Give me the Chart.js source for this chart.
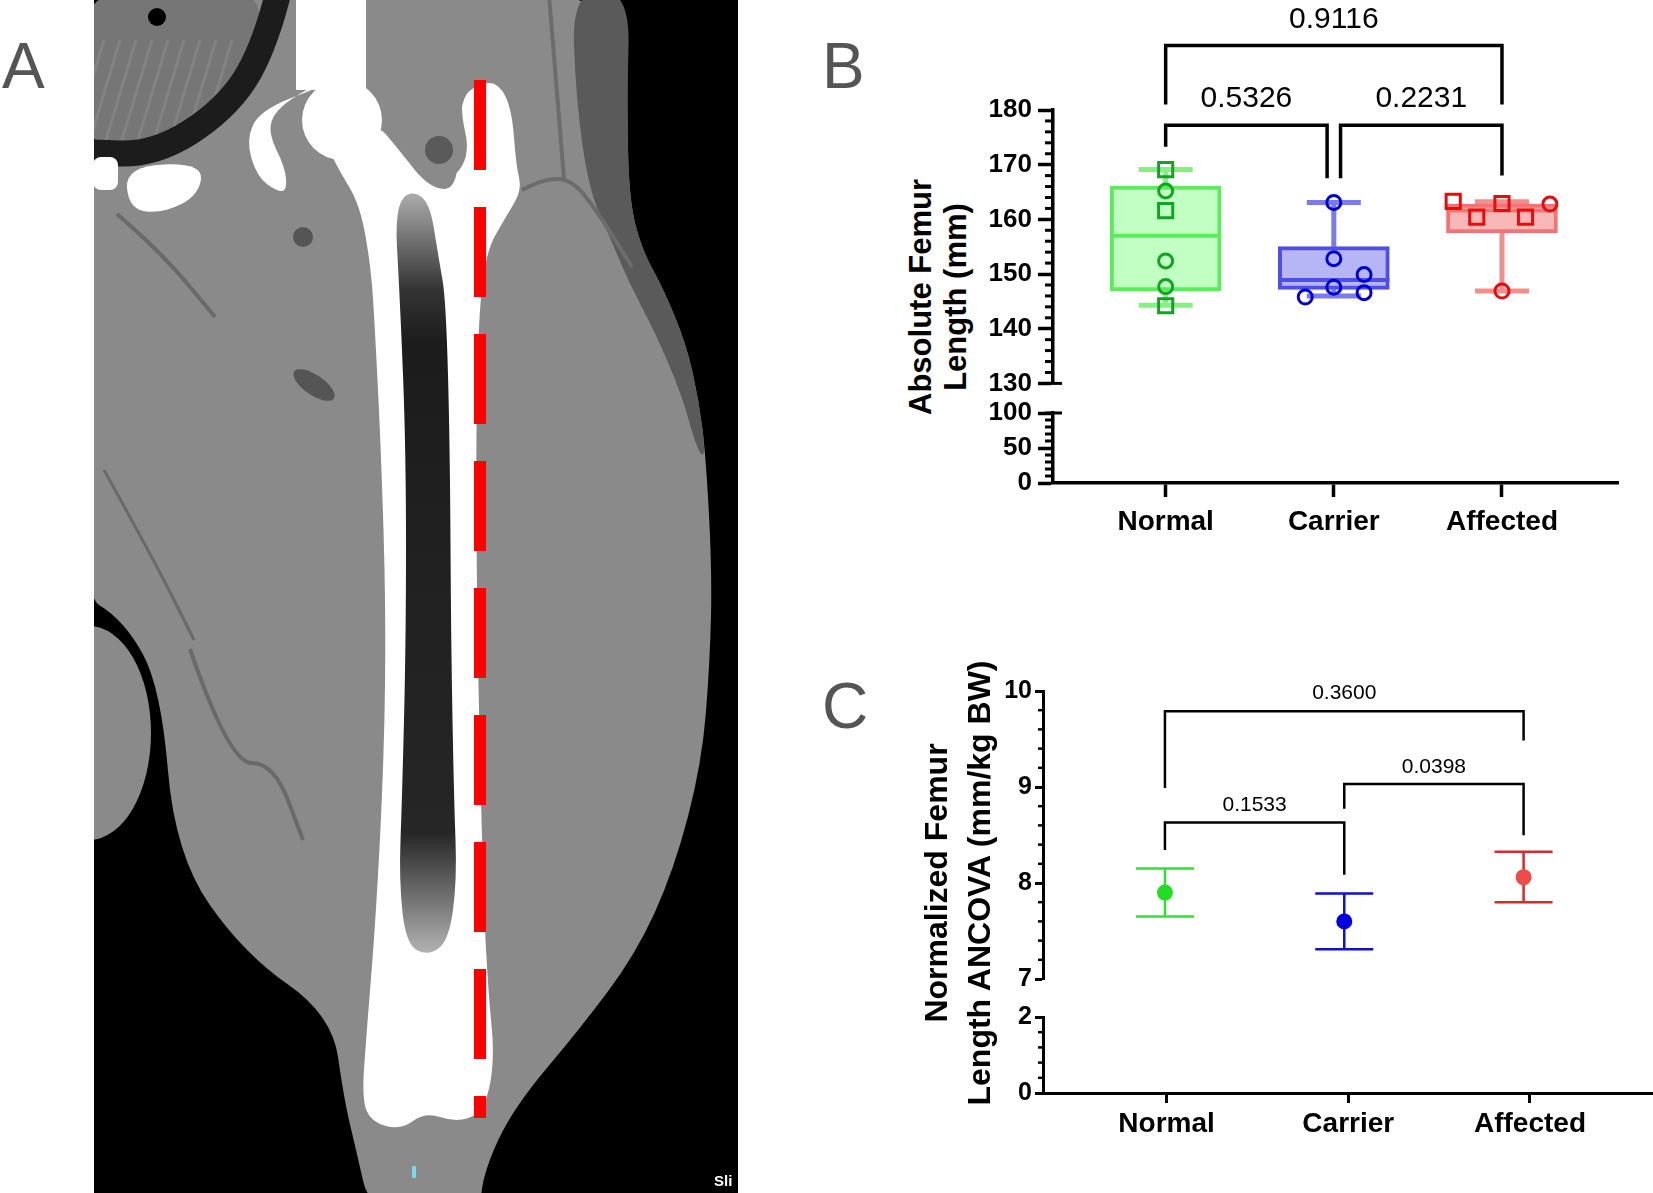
<!DOCTYPE html>
<html>
<head>
<meta charset="utf-8">
<title>Femur length</title>
<script src="https://cdn.jsdelivr.net/npm/chart.js@4.4.1/dist/chart.umd.min.js"></script>
<style>
  html, body { margin: 0; padding: 0; background: #fff; }
  #fig { position: relative; width: 1653px; height: 1193px; overflow: hidden; font-family: "Liberation Sans", Arial, sans-serif; }
  #fig canvas { position: absolute; }
  .letter { position: absolute; font-size: 64px; line-height: 64px; color: #555; }
  .ytitle { position: absolute; width: 600px; text-align: center; font-weight: bold; color: #000;
            transform: rotate(-90deg); transform-origin: 50% 50%; white-space: nowrap; }
</style>
</head>
<body>
<div id="fig">
  <canvas id="scan" width="644" height="1193" style="left:94px;top:0px"></canvas>
  <div class="letter" style="left:2px;top:34px">A</div>
  <div class="letter" style="left:822px;top:34px">B</div>
  <div class="letter" style="left:822px;top:674px">C</div>

  <canvas id="bTop" width="673" height="405" style="left:980px;top:0px"></canvas>
  <canvas id="bBot" width="673" height="180" style="left:980px;top:380px"></canvas>
  <div class="ytitle" style="left:638px;top:262px;font-size:31px;line-height:35px">Absolute Femur<br>Length (mm)</div>

  <canvas id="cTop" width="683" height="360" style="left:970px;top:640px"></canvas>
  <canvas id="cBot" width="683" height="198" style="left:970px;top:995px"></canvas>
  <div class="ytitle" style="left:658px;top:840px;font-size:32px;line-height:43px">Normalized Femur<br>Length ANCOVA (mm/kg BW)</div>
</div>

<script>
// ---------- data ----------
const groups = ['Normal', 'Carrier', 'Affected'];

// B: absolute femur length (mm), box summary per group
const boxLow = [146.9, 147.2, 157.5];
const boxHigh = [166.1, 155.0, 162.8];
const boxMedian = [157.0, 148.9, 161.6];
const whiskerLow = [144.3, 146.0, 146.9];
const whiskerHigh = [169.1, 163.1, 163.2];

// B: single animals (squares / circles), jitter in category units
const normalSquares = [169.1, 161.6, 144.2];
const normalCircles = [165.2, 152.4, 147.7];
const carrierCircles = [163.1, 152.8, 147.6, 149.9, 146.6, 145.8];
const carrierJitter = [0, 0, 0, 0.18, 0.18, -0.17];
const affectedSquares = [163.3, 160.4, 162.9, 160.4];
const affectedSquareJitter = [-0.29, -0.15, 0, 0.14];
const affectedCircles = [162.8, 146.9];
const affectedCircleJitter = [0.285, 0];

const bTicksTop = [130, 140, 150, 160, 170, 180];
const bTicksBottom = [0, 50, 100];

// B: p-value brackets
const bPValues = ['0.9116', '0.5326', '0.2231'];
const bFrom = [1, 1, 2.04];
const bTo = [3, 1.96, 3];
const bBarY = [191.8, 177.2, 177.2];
const bFootFrom = [181.0, 173.3, 167.5];
const bFootTo = [181.0, 167.5, 168.0];
const bTextY = [196.5, 182.1, 182.1];

// C: normalized femur length, mean with error bars
const cMean = [7.90, 7.60, 8.06];
const cUpper = [8.15, 7.89, 8.325];
const cLower = [7.65, 7.31, 7.80];
const cTicksTop = [7, 8, 9, 10];
const cTicksBottom = [0, 2];

const cPValues = ['0.3600', '0.1533', '0.0398'];
const cFrom = [1, 1, 2];
const cTo = [3, 2, 3];
const cBarY = [9.79, 8.631, 9.032];
const cFootFrom = [8.99, 8.344, 8.774];
const cFootTo = [9.485, 8.086, 8.498];
const cTextY = [9.974, 8.815, 9.209];

// ---------- colours ----------
const boxFill = ['#c2ffc2', '#b6b6f7', '#f8b8b8'];
const boxEdge = ['#5aec5a', '#4f4fe6', '#f07474'];
const whiskerColor = ['#86ef86', '#7b7bec', '#f38e8e'];
const pointColor = ['#12a322', '#0000d6', '#ea0a0a'];
const cDot = ['#22dd22', '#0000dd', '#ef4b4b'];
const cBar = ['#2ee52e', '#1010d0', '#d82a2a'];

Chart.defaults.font.family = '"Liberation Sans", Arial, sans-serif';
Chart.defaults.color = '#000';
Chart.defaults.animation = false;
Chart.defaults.plugins.legend.display = false;
Chart.defaults.plugins.tooltip.enabled = false;

// ---------- scale helpers ----------
const yAxis = (min, max, ticks, tickLen, pad, lineW, fontSize) => ({
  type: 'linear', min, max,
  afterFit: s => { s.width = 73; },
  afterBuildTicks: s => { s.ticks = ticks.map(v => ({ value: v })); },
  ticks: { color: '#000', padding: pad, font: { size: fontSize, weight: 'bold' } },
  grid: { drawOnChartArea: false, drawTicks: true, tickLength: tickLen, tickWidth: lineW, tickColor: '#000' },
  border: { display: true, color: '#000', width: lineW }
});

// hidden x axis for the upper segments (no bar offset, so it lines up with the visible one)
const xHidden = (min, max) => ({ type: 'linear', min, max, display: false, offset: false });

const xAxis = (min, max, lineW, tickLen, pad, height) => ({
  type: 'linear', min, max, position: 'bottom', offset: false,
  afterBuildTicks: s => { s.ticks = groups.map((g, i) => ({ value: i + 1 })); },
  afterFit: s => { s.height = height; },
  ticks: { color: '#000', padding: pad, autoSkip: false, maxRotation: 0,
           font: { size: 28, weight: 'bold' }, callback: v => groups[Math.round(v) - 1] },
  grid: { drawOnChartArea: false, drawTicks: true, tickLength: tickLen, tickWidth: lineW, tickColor: '#000' },
  border: { display: true, color: '#000', width: lineW }
});

// ---------- plugins ----------
const minorTicks = (step, majorStep, len, width, capAt) => ({
  id: 'minorTicks',
  afterDraw(chart) {
    const { ctx, chartArea, scales: { y } } = chart;
    const x0 = chartArea.left;
    ctx.save();
    ctx.strokeStyle = '#000';
    ctx.lineWidth = width;
    const n = Math.round((y.max - y.min) / step);
    for (let k = 1; k < n; k++) {
      const v = y.min + k * step;
      if (Math.abs(v / majorStep - Math.round(v / majorStep)) < 1e-6) continue;
      const py = y.getPixelForValue(v);
      ctx.beginPath(); ctx.moveTo(x0 - len, py); ctx.lineTo(x0, py); ctx.stroke();
    }
    if (capAt !== null) {
      const py = y.getPixelForValue(capAt);
      ctx.beginPath(); ctx.moveTo(x0 - 8, py); ctx.lineTo(x0 + 9, py); ctx.stroke();
    }
    ctx.restore();
  }
});

const brackets = (b) => ({
  id: 'brackets',
  afterDraw(chart) {
    const { ctx, scales: { x, y } } = chart;
    ctx.save();
    ctx.strokeStyle = '#000';
    ctx.fillStyle = '#000';
    ctx.lineWidth = b.lineWidth;
    ctx.lineJoin = 'miter';
    ctx.font = b.fontSize + 'px "Liberation Sans", Arial, sans-serif';
    ctx.textAlign = 'center';
    ctx.textBaseline = 'middle';
    b.labels.forEach((t, i) => {
      const x1 = x.getPixelForValue(b.from[i]);
      const x2 = x.getPixelForValue(b.to[i]);
      const yb = y.getPixelForValue(b.bar[i]);
      ctx.beginPath();
      ctx.moveTo(x1, y.getPixelForValue(b.footFrom[i]));
      ctx.lineTo(x1, yb);
      ctx.lineTo(x2, yb);
      ctx.lineTo(x2, y.getPixelForValue(b.footTo[i]));
      ctx.stroke();
      ctx.fillText(t, (x1 + x2) / 2, y.getPixelForValue(b.textY[i]));
    });
    ctx.restore();
  }
});

const boxParts = {
  id: 'boxParts',
  beforeDatasetsDraw(chart) {
    const { ctx, scales: { x, y } } = chart;
    ctx.save();
    ctx.lineWidth = 5;
    groups.forEach((g, i) => {
      const px = x.getPixelForValue(i + 1);
      ctx.strokeStyle = whiskerColor[i];
      ctx.beginPath();
      ctx.moveTo(px, y.getPixelForValue(boxHigh[i]));
      ctx.lineTo(px, y.getPixelForValue(whiskerHigh[i]));
      ctx.moveTo(px, y.getPixelForValue(boxLow[i]));
      ctx.lineTo(px, y.getPixelForValue(whiskerLow[i]));
      [whiskerHigh[i], whiskerLow[i]].forEach(v => {
        const py = y.getPixelForValue(v);
        ctx.moveTo(px - 27, py); ctx.lineTo(px + 27, py);
      });
      ctx.stroke();
    });
    ctx.restore();
  },
  afterDatasetDraw(chart, args) {
    if (args.meta.type !== 'bar') return;
    const { ctx, scales: { y } } = chart;
    ctx.save();
    ctx.lineWidth = 4;
    args.meta.data.forEach((bar, i) => {
      const py = y.getPixelForValue(boxMedian[i]);
      ctx.strokeStyle = boxEdge[i];
      ctx.beginPath();
      ctx.moveTo(bar.x - bar.width / 2, py);
      ctx.lineTo(bar.x + bar.width / 2, py);
      ctx.stroke();
    });
    ctx.restore();
  }
};

const errorBars = {
  id: 'errorBars',
  beforeDatasetsDraw(chart) {
    const { ctx, scales: { x, y } } = chart;
    ctx.save();
    ctx.lineWidth = 2.5;
    groups.forEach((g, i) => {
      const px = x.getPixelForValue(i + 1);
      const top = y.getPixelForValue(cUpper[i]);
      const bot = y.getPixelForValue(cLower[i]);
      ctx.strokeStyle = cBar[i];
      ctx.beginPath();
      ctx.moveTo(px, top); ctx.lineTo(px, bot);
      ctx.moveTo(px - 29, top); ctx.lineTo(px + 29, top);
      ctx.moveTo(px - 29, bot); ctx.lineTo(px + 29, bot);
      ctx.stroke();
    });
    ctx.restore();
  }
};

const dots = (values, jitter, group, style, radius, color) => ({
  type: 'scatter', order: 1,
  data: values.map((v, i) => ({ x: group + jitter[i], y: v })),
  pointStyle: style, pointRadius: radius, pointHoverRadius: radius,
  pointBorderWidth: 3, pointBorderColor: color, pointBackgroundColor: 'rgba(0,0,0,0)'
});

// ---------- panel B ----------
new Chart(document.getElementById('bTop'), {
  type: 'scatter',
  data: {
    datasets: [
      dots(normalSquares, normalSquares.map(() => 0), 1, 'rect', 10, pointColor[0]),
      dots(normalCircles, normalCircles.map(() => 0), 1, 'circle', 7, pointColor[0]),
      dots(carrierCircles, carrierJitter, 2, 'circle', 7, pointColor[1]),
      dots(affectedSquares, affectedSquareJitter, 3, 'rect', 10, pointColor[2]),
      dots(affectedCircles, affectedCircleJitter, 3, 'circle', 7, pointColor[2]),
      {
        type: 'bar', order: 5,
        data: groups.map((g, i) => ({ x: i + 1, y: [boxLow[i], boxHigh[i]] })),
        backgroundColor: boxFill, borderColor: boxEdge, borderWidth: 4,
        borderSkipped: false, barThickness: 111
      }
    ]
  },
  options: {
    responsive: false,
    layout: { padding: { left: 0, right: 35, top: 110, bottom: 19 } },
    scales: {
      x: xHidden(0.33, 3.69),
      y: yAxis(130, 180, bTicksTop, 15, 6, 3.5, 26)
    }
  },
  plugins: [boxParts, minorTicks(2, 10, 8, 3, 130),
    brackets({ labels: bPValues, from: bFrom, to: bTo, bar: bBarY, footFrom: bFootFrom,
               footTo: bFootTo, textY: bTextY, lineWidth: 3.5, fontSize: 30 })]
});

new Chart(document.getElementById('bBot'), {
  type: 'scatter',
  data: { datasets: [] },
  options: {
    responsive: false,
    layout: { padding: { left: 0, right: 35, top: 33, bottom: 0 } },
    scales: {
      x: xAxis(0.33, 3.69, 3.5, 14, 8, 77),
      y: yAxis(0, 100, bTicksBottom, 15, 6, 3.5, 26)
    }
  },
  plugins: [minorTicks(10, 50, 8, 3, 100)]
});

// ---------- panel C ----------
new Chart(document.getElementById('cTop'), {
  type: 'scatter',
  data: {
    datasets: [{
      data: groups.map((g, i) => ({ x: i + 1, y: cMean[i] })),
      pointStyle: 'circle', pointRadius: 8, pointHoverRadius: 8, pointBorderWidth: 0,
      pointBackgroundColor: cDot, pointBorderColor: cDot
    }]
  },
  options: {
    responsive: false,
    layout: { padding: { left: 0, right: 0, top: 51, bottom: 21 } },
    scales: {
      x: xHidden(0.32, 3.677),
      y: yAxis(7, 10, cTicksTop, 8, 3, 3, 25)
    }
  },
  plugins: [errorBars, minorTicks(0.2, 1, 5, 2.5, null),
    brackets({ labels: cPValues, from: cFrom, to: cTo, bar: cBarY, footFrom: cFootFrom,
               footTo: cFootTo, textY: cTextY, lineWidth: 2.5, fontSize: 21 })]
});

new Chart(document.getElementById('cBot'), {
  type: 'scatter',
  data: { datasets: [] },
  options: {
    responsive: false,
    layout: { padding: { left: 0, right: 0, top: 22, bottom: 0 } },
    scales: {
      x: xAxis(0.32, 3.677, 3, 10, 4, 100),
      y: yAxis(0, 2, cTicksBottom, 8, 3, 3, 25)
    }
  },
  plugins: [minorTicks(0.4, 2, 5, 2.5, null)]
});

// ---------- panel A: schematic of the CT slice ----------
function smooth(g, pts, closed) {
  const mid = (a, b) => [(a[0] + b[0]) / 2, (a[1] + b[1]) / 2];
  const n = pts.length;
  g.beginPath();
  if (closed) {
    const m0 = mid(pts[n - 1], pts[0]);
    g.moveTo(m0[0], m0[1]);
    for (let i = 0; i < n; i++) {
      const m = mid(pts[i], pts[(i + 1) % n]);
      g.quadraticCurveTo(pts[i][0], pts[i][1], m[0], m[1]);
    }
    g.closePath();
  } else {
    g.moveTo(pts[0][0], pts[0][1]);
    for (let i = 1; i < n - 1; i++) {
      const m = mid(pts[i], pts[i + 1]);
      g.quadraticCurveTo(pts[i][0], pts[i][1], m[0], m[1]);
    }
    g.lineTo(pts[n - 1][0], pts[n - 1][1]);
  }
}

function drawScan() {
  const c = document.getElementById('scan');
  const g = c.getContext('2d');
  g.fillStyle = '#000';
  g.fillRect(0, 0, c.width, c.height);

  // soft tissue
  g.fillStyle = '#8a8a8a';
  smooth(g, [[-20, -20], [534, -20], [533, 100], [535, 200], [548, 250], [568, 286], [592, 343],
    [605, 401], [612, 458], [618, 572], [616, 660], [608, 763], [580, 870], [542, 954],
    [485, 1030], [420, 1107], [390, 1170], [385, 1215],
    [277, 1215], [262, 1150], [250, 1099], [238, 1015], [150, 954], [81, 855], [67, 687],
    [30, 620], [-20, 590]], true);
  g.fill();
  g.beginPath();
  g.ellipse(-5, 733, 62, 107, 0, 0, Math.PI * 2);
  g.fill();

  // darker fat layer along the upper right skin
  g.fillStyle = '#5a5a5a';
  smooth(g, [[478, -10], [536, -10], [533, 100], [535, 200], [548, 250], [568, 286], [592, 343],
    [605, 401], [612, 458], [603, 450], [588, 395], [560, 330], [536, 285], [515, 235],
    [495, 190], [482, 100]], true);
  g.fill();
  g.strokeStyle = '#6c6c6c';
  g.lineWidth = 4;
  smooth(g, [[428, 190], [448, 179], [478, 179], [505, 214], [538, 267]], false);
  g.stroke();
  smooth(g, [[455, -5], [462, 80], [470, 179]], false);
  g.stroke();

  // pelvis, top left
  g.fillStyle = '#767676';
  smooth(g, [[-20, -20], [170, -20], [160, 60], [120, 120], [60, 148], [-20, 145]], true);
  g.fill();
  g.strokeStyle = '#838383';
  g.lineWidth = 3;
  for (let k = 0; k < 9; k++) {
    g.beginPath();
    g.moveTo(10 + k * 16, 40);
    g.lineTo(-20 + k * 16, 140);
    g.stroke();
  }
  g.strokeStyle = '#1c1c1c';
  g.lineWidth = 26;
  smooth(g, [[185, -10], [170, 50], [131, 110], [60, 155], [-10, 152]], false);
  g.stroke();
  g.fillStyle = '#000';
  g.beginPath(); g.arc(63, 17, 9, 0, Math.PI * 2); g.fill();

  // muscle fascia lines
  g.strokeStyle = '#6a6a6a';
  g.lineWidth = 4;
  smooth(g, [[23, 214], [67, 252], [121, 317]], false); g.stroke();
  smooth(g, [[96, 649], [135, 763], [180, 763], [209, 840]], false); g.stroke();
  g.lineWidth = 3;
  smooth(g, [[10, 470], [60, 560], [100, 640]], false); g.stroke();
  g.fillStyle = '#555';
  g.beginPath(); g.arc(209, 237, 10, 0, Math.PI * 2); g.fill();
  g.beginPath(); g.ellipse(220, 385, 24, 10, 0.6, 0, Math.PI * 2); g.fill();

  // bone
  g.fillStyle = '#fff';
  g.beginPath(); g.roundRect(-1, 157, 25, 33, 8); g.fill();
  smooth(g, [[31, 166], [109, 163], [105, 195], [70, 213], [35, 210]], true); g.fill();
  g.fillRect(202, -5, 70, 95);
  g.beginPath(); g.arc(248, 120, 40, 0, Math.PI * 2); g.fill();
  smooth(g, [[231, 85], [166, 110], [152, 140], [163, 177], [184, 192], [193, 190],
    [191, 167], [174, 133], [181, 110], [216, 87]], true);
  g.fill();
  smooth(g, [[235, 150], [280, 120], [305, 150], [335, 188], [365, 190], [365, 100], [385, 83],
    [405, 83], [418, 110], [422, 165], [428, 190], [413, 215], [391, 253], [384, 330],
    [382, 450], [383, 611], [386, 760], [390, 916], [395, 1000], [400, 1050], [396, 1090],
    [385, 1115], [361, 1122], [331, 1112], [307, 1130], [277, 1122], [268, 1099],
    [272, 1040], [282, 916], [290, 760], [292, 611], [287, 450], [281, 330], [277, 267],
    [266, 205], [245, 170]], true);
  g.fill();

  // gray tendon between head and trochanter
  g.fillStyle = '#8a8a8a';
  smooth(g, [[281, -10], [374, -10], [372, 60], [366, 110], [376, 152], [360, 180],
    [330, 176], [306, 145], [290, 100], [282, 40]], true);
  g.fill();
  g.fillStyle = '#5a5a5a';
  g.beginPath(); g.arc(345, 150, 14, 0, Math.PI * 2); g.fill();

  // marrow cavity
  const mg = g.createLinearGradient(0, 190, 0, 955);
  mg.addColorStop(0, '#b0b0b0');
  mg.addColorStop(0.13, '#343434');
  mg.addColorStop(0.2, '#1c1c1c');
  mg.addColorStop(0.84, '#262626');
  mg.addColorStop(1, '#b4b4b4');
  g.fillStyle = mg;
  smooth(g, [[300, 195], [334, 192], [345, 260], [352, 300], [356, 450], [357, 640], [360, 800],
    [363, 880], [355, 940], [335, 956], [312, 945], [305, 880], [308, 800], [312, 640],
    [312, 450], [306, 300]], true);
  g.fill();

  // red measuring line
  g.strokeStyle = '#ff0000';
  g.lineWidth = 12;
  g.setLineDash([90, 37]);
  g.beginPath(); g.moveTo(386, 80); g.lineTo(386, 1118); g.stroke();
  g.setLineDash([]);

  // scanner overlay marks
  g.fillStyle = '#7fd8e8';
  g.fillRect(318, 1166, 4, 12);
  g.fillStyle = '#fff';
  g.font = 'bold 15px "Liberation Sans", Arial, sans-serif';
  g.textBaseline = 'alphabetic';
  g.fillText('Sli', 620, 1186);
}
drawScan();
</script>
</body>
</html>
